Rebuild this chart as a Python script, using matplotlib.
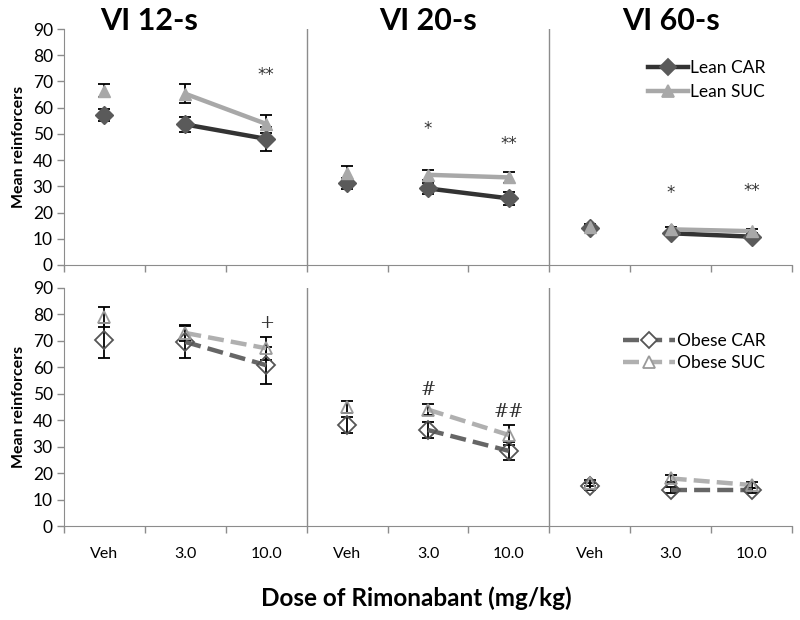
import numpy as np
import matplotlib
matplotlib.use("Agg")
import matplotlib.pyplot as plt
from matplotlib.lines import Line2D
import matplotlib.transforms as mtrans

plt.rcParams['font.family'] = ['Lato', 'DejaVu Sans']

doses = ['Veh', '3.0', '10.0']
schedules = ['VI 12-s', 'VI 20-s', 'VI 60-s']

# 9 points per series: 3 doses for each of the 3 schedules
lean_car = [57.2, 53.6, 48.1, 31.1, 29.2, 25.4, 14.0, 12.1, 10.8]
lean_car_err = [2.2, 2.7, 4.5, 2.0, 2.2, 2.4, 1.0, 1.0, 1.0]
lean_suc = [66.4, 65.3, 53.8, 35.0, 34.4, 33.4, 14.6, 13.6, 12.9]
lean_suc_err = [2.5, 3.6, 3.5, 2.6, 1.8, 2.0, 1.0, 1.0, 0.8]

obese_car = [70.2, 69.6, 60.8, 38.2, 36.3, 28.4, 15.0, 13.5, 13.5]
obese_car_err = [6.7, 6.1, 7.0, 3.0, 3.1, 3.4, 1.2, 1.2, 1.0]
obese_suc = [79.2, 73.0, 67.2, 45.0, 44.0, 34.4, 16.2, 18.0, 15.5]
obese_suc_err = [3.8, 3.0, 4.4, 2.2, 2.0, 3.8, 1.2, 1.2, 1.0]

lean_marks = [(2, 72.5, '**'), (4, 51.8, '*'), (5, 46.1, '**'), (7, 27.3, '*'), (8, 28.4, '**')]
obese_marks = [(2, 76.7, '+'), (4, 51.4, '#'), (5, 43.2, '##')]

fig = plt.figure(figsize=(8, 6.2), dpi=100)
ax_top = fig.add_axes([0.08, 0.5726, 0.91, 0.3806])
ax_bot = fig.add_axes([0.08, 0.1516, 0.91, 0.3839])

x = np.arange(9)
axis_gray = '#8c8c8c'
dash = (0, (3.6, 1.6))


def draw_series(ax, vals, errs, color, mcolor, marker, ls, lw, filled):
    vals = np.array(vals)
    errs = np.array(errs)
    ax.errorbar(x, vals, yerr=errs, fmt='none', ecolor='black', elinewidth=1.3,
                capsize=4, capthick=1.3, zorder=2)
    for p in range(3):
        idx = [3 * p + 1, 3 * p + 2]
        ax.plot(x[idx], vals[idx], color=color, lw=lw, ls=ls, zorder=3,
                solid_capstyle='butt', dash_capstyle='butt')
    if filled:
        ax.plot(x, vals, ls='none', marker=marker, ms=9, mfc=mcolor, mec=mcolor, zorder=4)
    else:
        ax.plot(x, vals, ls='none', marker=marker, ms=9, mfc='none', mec=mcolor,
                mew=1.3, zorder=4)
    return Line2D([0], [0], color=color, lw=lw, ls=ls, marker=marker, ms=8,
                  mfc=mcolor if filled else 'white', mec=mcolor, mew=1.3)


h1 = draw_series(ax_top, lean_car, lean_car_err, '#333333', '#5a5a5a', 'D', '-', 3.2, True)
h2 = draw_series(ax_top, lean_suc, lean_suc_err, '#a8a8a8', '#a8a8a8', '^', '-', 3.2, True)
h3 = draw_series(ax_bot, obese_car, obese_car_err, '#666666', '#555555', 'D', dash, 3.2, False)
h4 = draw_series(ax_bot, obese_suc, obese_suc_err, '#b0b0b0', '#9a9a9a', '^', dash, 3.2, False)

for ax in [ax_top, ax_bot]:
    ax.set_xlim(-0.5, 8.5)
    ax.set_ylim(0, 90)
    ax.set_yticks(np.arange(0, 91, 10))
    ax.set_xticks(np.arange(-0.5, 8.6, 1))
    ax.set_xticklabels([])
    ax.tick_params(axis='both', color=axis_gray, length=5, width=1, labelsize=12.5)
    ax.tick_params(axis='y', pad=3)
    for s in ['top', 'right']:
        ax.spines[s].set_visible(False)
    for s in ['left', 'bottom']:
        ax.spines[s].set_color(axis_gray)
    for xv in [2.5, 5.5]:
        ax.axvline(xv, color=axis_gray, lw=1, zorder=1)
    ax.set_ylabel('Mean reinforcers', fontsize=11.5, fontweight='bold', labelpad=5)

ax_bot.set_xticks(x, minor=True)
ax_bot.set_xticklabels(doses * 3, minor=True)
ax_bot.tick_params(axis='x', which='minor', length=0, pad=15, labelsize=11.5)

for xv, yv, t in lean_marks:
    ax_top.text(xv, yv, t, ha='center', va='center', fontsize=12, color='#333333',
                family='DejaVu Sans')
for xv, yv, t in obese_marks:
    ax_bot.text(xv, yv, t, ha='center', va='center', fontsize=13, color='#333333',
                family='DejaVu Serif')

trans = mtrans.blended_transform_factory(ax_top.transData, fig.transFigure)
for xv, t in zip([0.55, 4.0, 7.0], schedules):
    fig.text(xv, 0.966, t, transform=trans, ha='center', va='center',
             fontsize=22, fontweight='bold')

ax_top.legend([h1, h2], ['Lean CAR', 'Lean SUC'], loc='upper right',
              bbox_to_anchor=(0.985, 0.935), frameon=False, fontsize=12.5,
              handlelength=2.3, handletextpad=0.1, labelspacing=0.45)
ax_bot.legend([h3, h4], ['Obese CAR', 'Obese SUC'], loc='upper right',
              bbox_to_anchor=(0.985, 0.875), frameon=False, fontsize=12.5,
              handlelength=3.0, handletextpad=0.1, labelspacing=0.35)

fig.text(0.52, 0.035, 'Dose of Rimonabant (mg/kg)', ha='center', va='center',
         fontsize=17.5, fontweight='bold')

fig.savefig('out.png', dpi=100)
